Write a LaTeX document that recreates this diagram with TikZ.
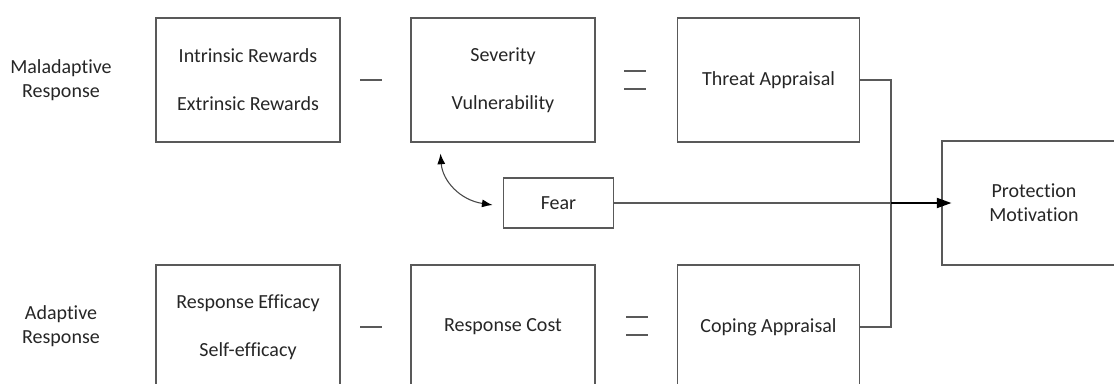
\documentclass[tikz,border=0pt]{standalone}
\usepackage{fontspec}
\setmainfont{Carlito}[Ligatures=NoCommon]
\usetikzlibrary{arrows.meta,calc}
\definecolor{ln}{HTML}{595959}
\definecolor{txt}{HTML}{262626}
\begin{document}
\begin{tikzpicture}[x=0.75pt,y=-0.75pt,
  every node/.style={font=\fontsize{15pt}{18pt}\selectfont, text=txt},
  box/.style={draw=ln, line width=0.8pt, minimum width=138pt, minimum height=93pt, inner sep=0pt, align=center},
  smallbox/.style={draw=ln, line width=0.8pt, minimum width=83pt, minimum height=37.5pt, inner sep=0pt, align=center},
  lbl/.style={align=center, inner sep=0pt},
  conn/.style={draw=ln, line width=0.8pt},
  opmark/.style={draw=ln, line width=0.8pt},
  curvetip/.tip={Latex[length=8pt,width=6pt,color=black]}
]
\useasboundingbox (0,0) rectangle (1114,383);
\clip (0,0) rectangle (1114,383);

% row labels
\node[lbl] (mal) at (61,80) {Maladaptive\\Response};
\node[lbl] (ada) at (61,326) {Adaptive\\Response};

% top row
\node[box] (b1) at (248,80) {Intrinsic Rewards\\[18pt]Extrinsic Rewards};
\node[box] (b2) at (503,80) {Severity\\[18pt]Vulnerability};
\node[box, minimum width=137pt] (b3) at (768.5,80) {Threat Appraisal};

% bottom row
\node[box] (c1) at (248,327) {Response Efficacy\\[18pt]Self-efficacy};
\node[box] (c2) at (503,327) {Response Cost};
\node[box, minimum width=137pt] (c3) at (768.5,327) {Coping Appraisal};

% middle
\node[smallbox] (fear) at (558.5,203) {Fear};
\node[box] (pm) at (1034,203) {Protection\\Motivation};

% operators
\draw[opmark] (360,80) -- (382,80);
\draw[opmark] (624,71) -- (646,71);
\draw[opmark] (624,89) -- (646,89);
\draw[opmark] (360,327) -- (382,327);
\draw[opmark] (626,317) -- (648,317);
\draw[opmark] (626,335) -- (648,335);

% connectors
\coordinate (j) at (891,203);
\draw[conn] (b3.east) -| (j);
\draw[conn] (c3.east) -| (j);
\draw[conn] (fear.east) -- (j);
\draw[conn, draw=black, line width=1.5pt, -{Triangle[length=11pt,width=7.5pt]}, shorten >=-7.5pt] (j) -- (pm.west);

\draw[conn, draw=ln!80!black, curvetip-curvetip] ($(b2.south west)+(30,11)$) .. controls +(2,27) and +(-33,-5) .. ($(fear.west)+(-10,2)$);
\end{tikzpicture}
\end{document}
